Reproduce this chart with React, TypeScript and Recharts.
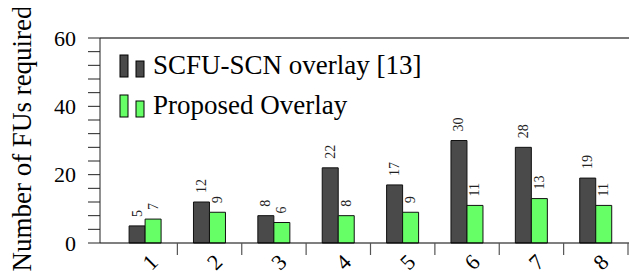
import React from 'react';
import { BarChart, Bar, XAxis, YAxis, ReferenceLine, Legend, LabelList } from 'recharts';

const categories = ['1', '2', '3', '4', '5', '6', '7', '8'];
const scfuValues = [5, 12, 8, 22, 17, 30, 28, 19];
const proposedValues = [7, 9, 6, 8, 9, 11, 13, 11];
const yTicks = [0, 4, 8, 12, 16, 20, 24, 28, 32, 36, 40, 44, 48, 52, 56, 60];
const yLabelTicks = [0, 20, 40, 60];

const GRAY = '#4a4a4a';
const GREEN = '#66ff66';
const SERIF = "'Times New Roman', Times, 'Liberation Serif', 'DejaVu Serif', serif";

const data = categories.map((c, i) => ({
  name: c,
  scfu: scfuValues[i],
  proposed: proposedValues[i],
}));

const XTick = (props: any) => {
  const { x, y, payload } = props;
  const half = payload?.offset ?? 32;
  return (
    <g>
      <line x1={x + half} x2={x + half} y1={y} y2={y + 12} stroke="#555" strokeWidth={1.2} />
      <text
        transform={`translate(${x + 5},${y + 19}) rotate(-45)`}
        textAnchor="middle"
        dominantBaseline="central"
        style={{ fontFamily: SERIF }}
        fontSize={22}
        fill="#000"
      >
        {payload.value}
      </text>
    </g>
  );
};

const ValueLabel = (props: any) => {
  const { x, y, width, value } = props;
  const cx = x + width / 2;
  const cy = y - 9;
  return (
    <text
      transform={`translate(${cx},${cy}) rotate(-90)`}
      textAnchor="start"
      dominantBaseline="central"
      style={{ fontFamily: SERIF }}
      fontSize={14}
      fill="#222"
    >
      {value}
    </text>
  );
};

const YLabel = (props: any) => {
  const vb = props.viewBox || {};
  const cy = (vb.y ?? 38) + (vb.height ?? 205) / 2 - 2;
  const cx = 22;
  return (
    <text
      transform={`translate(${cx},${cy}) rotate(-90)`}
      textAnchor="middle"
      dominantBaseline="central"
      style={{ fontFamily: SERIF }}
      fontSize={27}
      fill="#000"
    >
      Number of FUs required
    </text>
  );
};

const legendItems = [
  { label: 'SCFU-SCN overlay [13]', color: GRAY },
  { label: 'Proposed Overlay', color: GREEN },
];

const LegendContent = () => (
  <div style={{ fontFamily: SERIF, fontSize: 27, lineHeight: '40px', color: '#000' }}>
    {legendItems.map((item) => (
      <div key={item.label} style={{ display: 'flex', alignItems: 'flex-end', height: 40, whiteSpace: 'nowrap' }}>
        <svg width={34} height={24} style={{ marginBottom: 8 }}>
          <rect x={1} y={1} width={8} height={22} fill={item.color} stroke="#000" strokeWidth={1} />
          <rect x={17} y={7} width={8} height={16} fill={item.color} stroke="#000" strokeWidth={1} />
        </svg>
        <span style={{ marginBottom: 1 }}>{item.label}</span>
      </div>
    ))}
  </div>
);

export default function App() {
  return (
    <div style={{ margin: -8, width: 637, height: 279, overflow: 'hidden', background: '#fff' }}>
      <BarChart
        width={660}
        height={279}
        data={data}
        margin={{ top: 38, right: 19, bottom: 0, left: 0 }}
        barCategoryGap="25%"
        barGap={0}
      >
        <XAxis
          dataKey="name"
          height={36}
          padding={{ left: 13, right: 13 }}
          tickLine={false}
          tickSize={0}
          tickMargin={0}
          axisLine={{ stroke: '#000', strokeWidth: 1.2 }}
          tick={<XTick />}
          interval={0}
        />
        <YAxis
          width={100}
          domain={[0, 60]}
          ticks={yTicks}
          interval={0}
          tickSize={12}
          tickMargin={12}
          tickLine={{ stroke: '#222', strokeWidth: 1 }}
          axisLine={{ stroke: '#222', strokeWidth: 1 }}
          tickFormatter={(v: number) => (yLabelTicks.includes(v) ? String(v) : '')}
          tick={{ fontSize: 22, fill: '#000', style: { fontFamily: SERIF } }}
          label={(p: any) => <YLabel {...p} />}
        />
        <ReferenceLine y={60} stroke="#777" strokeWidth={2} />
        <Legend
          layout="vertical"
          align="center"
          verticalAlign="middle"
          content={<LegendContent />}
          wrapperStyle={{ left: 119, top: 46, width: 340 }}
        />
        <Bar dataKey="scfu" fill={GRAY} stroke="#111" strokeWidth={1} isAnimationActive={false}>
          <LabelList dataKey="scfu" content={<ValueLabel />} />
        </Bar>
        <Bar dataKey="proposed" fill={GREEN} stroke="#111" strokeWidth={1} isAnimationActive={false}>
          <LabelList dataKey="proposed" content={<ValueLabel />} />
        </Bar>
      </BarChart>
    </div>
  );
}
